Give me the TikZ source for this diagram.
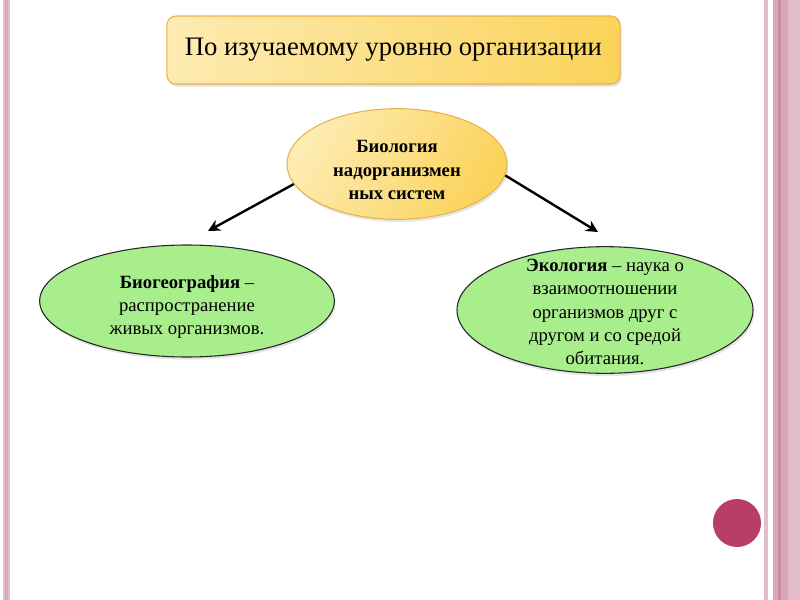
\documentclass[tikz,border=0pt]{standalone}
\usepackage{fontspec}
\setmainfont{Liberation Serif}
\usetikzlibrary{shapes.geometric,arrows.meta,shadows}
\definecolor{pinkA}{HTML}{E4BDCB}
\definecolor{pinkB}{HTML}{D9A7B9}
\definecolor{pinkC}{HTML}{C98AA3}
\definecolor{goldL}{HTML}{FDEBB2}
\definecolor{goldR}{HTML}{FBD35A}
\definecolor{goldB}{HTML}{E9B24C}
\definecolor{greenF}{HTML}{A8EE8C}
\definecolor{dotred}{HTML}{B83D69}
\newcommand\ztext[3]{\raisebox{#1}[0pt][0pt]{\makebox[0pt]{\parbox[c]{#2}{\centering\fontsize{14}{17.6}\selectfont #3}}}}
\tikzset{
  topbox/.style={rectangle, rounded corners=7pt, draw=goldB, line width=0.8pt,
    left color=goldL, right color=goldR, minimum width=340pt, minimum height=51pt,
    drop shadow={opacity=0.25, shadow xshift=1pt, shadow yshift=-2pt}},
  yell/.style={ellipse, draw=goldB, line width=0.8pt, left color=goldL, right color=goldR,
    shading angle=60, inner sep=0pt,
    drop shadow={opacity=0.2, shadow xshift=1pt, shadow yshift=-2pt}},
  green/.style={ellipse, draw=black!85, line width=0.8pt, fill=greenF, inner sep=0pt,
    drop shadow={opacity=0.2, shadow xshift=1pt, shadow yshift=-2pt}},
  conn/.style={line width=1.8pt, -{Stealth[length=9pt,width=9pt]}}
}
\begin{document}
\begin{tikzpicture}[x=0.75pt,y=-0.75pt]
\useasboundingbox (0,0) rectangle (800,600);
\fill[white] (0,0) rectangle (800,600);
% borders
\fill[pinkA] (3,0) rectangle (10,600);
\fill[pinkB] (5,0) rectangle (7.5,600);
\fill[pinkA] (764,0) rectangle (768,600);
\fill[pinkB] (773,0) rectangle (778,600);
\fill[pinkC] (778,0) rectangle (781,600);
\fill[pinkB] (781,0) rectangle (788,600);
\fill[pinkA] (788,0) rectangle (800,600);
% red dot
\fill[dotred] (737,523) circle (24);
% nodes
\node[topbox] (top) at (393.5,50) {\raisebox{-3pt}{\fontsize{20}{24}\selectfont По изучаемому уровню организации}};
\node[yell, minimum width=165pt, minimum height=83pt] (c) at (397,164)
  {\ztext{-7pt}{120pt}{\bfseries Биология надорганизмен ных систем}};
\node[green, minimum width=221pt, minimum height=84pt] (l) at (187,301)
  {\ztext{-7pt}{180pt}{\textbf{Биогеография} –\\ распространение\\ живых организмов.}};
\node[green, minimum width=222pt, minimum height=95pt] (r) at (605,310)
  {\ztext{-4pt}{180pt}{\textbf{Экология} – наука о\\ взаимоотношении\\ организмов друг с\\ другом и со средой\\ обитания.}};
\coordinate (le) at (208,231);
\coordinate (re) at (598,232);
\draw[conn] (c.191) -- (le);
\draw[conn] (c.354) -- (re);
\end{tikzpicture}
\end{document}
